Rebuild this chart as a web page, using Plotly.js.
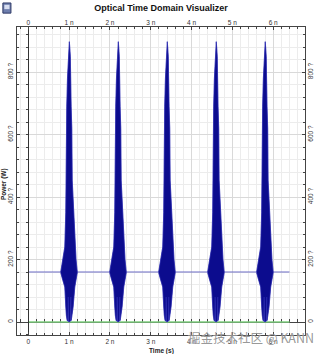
<!DOCTYPE html>
<html>
<head>
<meta charset="utf-8">
<script src="https://cdn.plot.ly/plotly-3.0.1.min.js"></script>
<style>html,body{margin:0;padding:0;background:#fff;}#chart{width:322px;height:354px;}</style>
</head>
<body>
<div id="chart"></div>
<script>
// ---- data (time in ns, power as labelled on the axis) ----
const xTickVals = [0, 1, 2, 3, 4, 5, 6];
const xTickText = ['0', '1 n', '2 n', '3 n', '4 n', '5 n', '6 n'];
const yTickVals = [0, 200, 400, 600, 800];
const yTickText = ['0', '200 ?', '400 ?', '600 ?', '800 ?'];

const pulseCentersNs = [1.0, 2.2, 3.4, 4.6, 5.8];

// upper envelope of one pulse, left to right (offset from centre, ns)
const envUpperOffsetNs = [-0.205, -0.16, -0.106, -0.082, -0.074, -0.058, -0.04, -0.022, -0.008, 0.006, 0.018, 0.03, 0.05, 0.066, 0.076, 0.095, 0.11, 0.139, 0.17, 0.2];
const envUpperPower    = [160, 200, 240, 350, 600, 690, 780, 849, 885, 897, 875, 849, 689, 620, 454, 400, 349, 240, 200, 160];
// lower envelope (dense core), right to left
const envLowerOffsetNs = [0.2, 0.17, 0.139, 0.098, 0.07, 0.052, 0.042, 0.032, 0.01, 0, -0.012, -0.022, -0.032, -0.05, -0.07, -0.082, -0.106, -0.16, -0.205];
const envLowerPower    = [158, 135, 112, 48, 20, 5, 80, 4, 2, 0, 3, 80, 3, 6, 22, 48, 112, 136, 158];
// lower envelope of the faint oscillation, right to left
const envFaintOffsetNs = [0.2, 0.139, 0.098, 0.05, 0, -0.049, -0.082, -0.106, -0.205];
const envFaintPower    = [158, 112, 48, 4, 0, 4, 48, 112, 158];

const cwTimeNs = [0, 6.4];
const cwPower = [160, 160];
const refTimeNs = [0, 6.4];
const refPower = [0, 0];

// ---- styling ----
const FONT = 'Liberation Sans, Arial, sans-serif';
const xRange = [-0.277, 6.78];
const yRange = [-41.6, 944];

const traces = [];
// dummy traces to register helper axes
traces.push({x:[null], y:[null], xaxis:'x2', yaxis:'y2', type:'scatter', mode:'lines', hoverinfo:'skip'});
traces.push({x:[null], y:[null], xaxis:'x3', yaxis:'y3', type:'scatter', mode:'lines', hoverinfo:'skip'});

traces.push({x: refTimeNs, y: refPower, type:'scatter', mode:'lines', line:{color:'#7fcf7f', width:1.5}, hoverinfo:'skip'});
traces.push({x: cwTimeNs, y: cwPower, type:'scatter', mode:'lines', line:{color:'#6a6ac4', width:1}, hoverinfo:'skip'});

pulseCentersNs.forEach(c => {
  const xf = envUpperOffsetNs.concat(envFaintOffsetNs).map(o => c + o);
  const yf = envUpperPower.concat(envFaintPower);
  traces.push({x: xf, y: yf, type:'scatter', mode:'lines', fill:'toself', fillcolor:'#5a5ac8', line:{color:'#5a5ac8', width:0.5}, hoverinfo:'skip'});
});
pulseCentersNs.forEach(c => {
  const xd = envUpperOffsetNs.concat(envLowerOffsetNs).map(o => c + o);
  const yd = envUpperPower.concat(envLowerPower);
  traces.push({x: xd, y: yd, type:'scatter', mode:'lines', fill:'toself', fillcolor:'#0c0c8e', line:{color:'#2a2aae', width:0.6}, hoverinfo:'skip'});
});

const tickFont = {family: FONT, size: 6.5, color: '#333'};
const layout = {
  width: 322, height: 354,
  margin: {l: 17, r: 17, t: 27, b: 19, pad: 0},
  paper_bgcolor: '#ffffff', plot_bgcolor: '#ffffff',
  showlegend: false,
  title: {text: '<b>Optical Time Domain Visualizer</b>', font: {family: FONT, size: 9, color: '#111'}, x: 0.5, xref: 'paper', xanchor: 'center', y: 0.977, yanchor: 'middle'},
  xaxis: {
    range: xRange, tickmode: 'array', tickvals: xTickVals, ticktext: xTickText,
    ticks: 'inside', ticklen: 3, tickcolor: '#444', tickwidth: 1,
    showgrid: true, gridcolor: '#d9d9d9', gridwidth: 1,
    minor: {tickmode: 'linear', tick0: 0, dtick: 0.2, ticks: 'inside', ticklen: 2, tickcolor: '#444', showgrid: true, gridcolor: '#ececec', gridwidth: 1},
    showline: true, linecolor: '#444', linewidth: 1, mirror: true, zeroline: false,
    tickfont: tickFont, fixedrange: true
  },
  xaxis2: {
    overlaying: 'x', side: 'top', range: xRange, tickmode: 'array', tickvals: xTickVals, ticktext: xTickText,
    ticks: 'inside', ticklen: 3, tickcolor: '#444',
    minor: {tickmode: 'linear', tick0: 0, dtick: 0.2, ticks: 'inside', ticklen: 2, tickcolor: '#444', showgrid: false},
    showgrid: false, showline: false, zeroline: false, tickfont: tickFont, fixedrange: true
  },
  xaxis3: {
    overlaying: 'x', anchor: 'free', position: 0.042, range: xRange, layer: 'below traces',
    tickmode: 'linear', tick0: 0, dtick: 0.2, ticks: 'inside', ticklen: 3, tickcolor: '#444',
    showticklabels: false, showgrid: false, showline: true, linecolor: '#444', linewidth: 1, zeroline: false, fixedrange: true
  },
  yaxis: {
    range: yRange, tickmode: 'array', tickvals: yTickVals, ticktext: yTickText, tickangle: -90,
    ticks: 'inside', ticklen: 3, tickcolor: '#444',
    showgrid: true, gridcolor: '#d9d9d9', gridwidth: 1,
    minor: {tickmode: 'linear', tick0: 0, dtick: 40, ticks: 'inside', ticklen: 2, tickcolor: '#444', showgrid: true, gridcolor: '#ececec', gridwidth: 1},
    showline: true, linecolor: '#444', linewidth: 1, mirror: true, zeroline: false,
    tickfont: tickFont, fixedrange: true
  },
  yaxis2: {
    overlaying: 'y', side: 'right', range: yRange, tickmode: 'array', tickvals: yTickVals, ticktext: yTickText, tickangle: -90,
    ticks: 'inside', ticklen: 3, tickcolor: '#444',
    minor: {tickmode: 'linear', tick0: 0, dtick: 40, ticks: 'inside', ticklen: 2, tickcolor: '#444', showgrid: false},
    showgrid: false, showline: false, zeroline: false, tickfont: tickFont, fixedrange: true
  },
  yaxis3: {
    overlaying: 'y', anchor: 'free', position: 0.039, range: yRange,
    tickmode: 'linear', tick0: 0, dtick: 40, ticks: 'outside', ticklen: 2, tickcolor: '#444',
    showticklabels: false, showgrid: false, showline: true, linecolor: '#333', linewidth: 1, zeroline: false, fixedrange: true
  },
  annotations: [
    {text: '<b>Time (s)</b>', xref: 'paper', yref: 'paper', x: 0.5, y: -0.052, xanchor: 'center', yanchor: 'middle', showarrow: false, font: {family: FONT, size: 6.5, color: '#222'}},
    {text: '<b>Power (W)</b>', xref: 'paper', yref: 'paper', x: -0.045, y: 0.49, xanchor: 'center', yanchor: 'middle', textangle: -90, showarrow: false, font: {family: FONT, size: 6.5, color: '#222'}},
    {text: '掘金技术社区 @ KANN', xref: 'paper', yref: 'paper', x: 0.812, y: -0.0065, xanchor: 'center', yanchor: 'middle', showarrow: false, font: {family: 'Noto Sans CJK SC, sans-serif', size: 12.5, color: 'rgba(125,125,125,0.8)', shadow: '0px 0px 1px #ffffff'}}
  ],
  shapes: [
    {type: 'rect', xref: 'paper', yref: 'paper', x0: -0.049, x1: -0.021, y0: 1.045, y1: 1.078, fillcolor: '#6f7fae', line: {color: '#2f3a66', width: 1}},
    {type: 'rect', xref: 'paper', yref: 'paper', x0: -0.044, x1: -0.026, y0: 1.058, y1: 1.072, fillcolor: '#d8def0', line: {width: 0}}
  ]
};

Plotly.newPlot('chart', traces, layout, {staticPlot: true, displayModeBar: false});
</script>
</body>
</html>
